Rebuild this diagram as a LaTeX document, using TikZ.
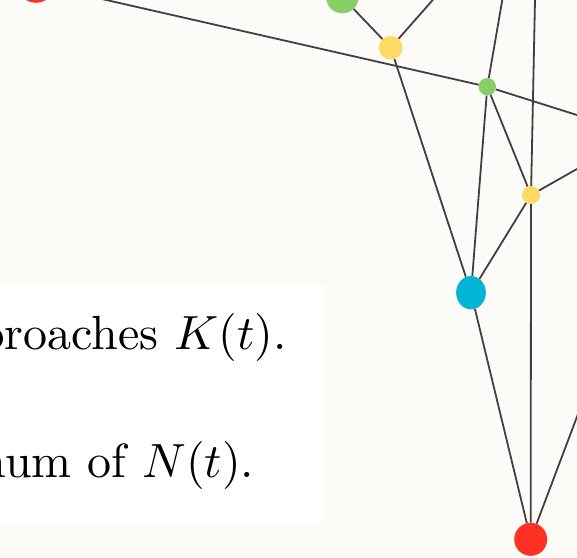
\documentclass[tikz,border=0pt]{standalone}
\usetikzlibrary{shapes.geometric}
\definecolor{bgc}{HTML}{FCFBF7}
\definecolor{edgec}{HTML}{404040}
\definecolor{nred}{HTML}{FF3024}
\definecolor{ngreen}{HTML}{87CF66}
\definecolor{nyellow}{HTML}{FFD966}
\definecolor{nblue}{HTML}{04B4D7}
\begin{document}
\begin{tikzpicture}[x=1pt,y=-1pt,
  dot/.style={circle,inner sep=0pt,draw=none,minimum size=#1},
  edge/.style={draw=edgec,line width=1.8pt},
  txt/.style={anchor=base east,inner sep=0pt}]
\useasboundingbox (0,0) rectangle (577,557);
\clip (0,0) rectangle (577,557);
\fill[bgc] (0,0) rectangle (577,557);
\fill[white] (-1,285) rectangle (323.5,523.3);
\node[txt] (t1) at (287,349) {\scalebox{4.8}{proaches $K(t)$.}};
\node[txt] (t2) at (254.5,477) {\scalebox{4.8}{num of $N(t)$.}};
% nodes
\node[dot=37.6pt,fill=nred] (r1) at (36,-16) {};
\node[dot=32.4pt,fill=ngreen] (gB) at (342.3,-2.9) {};
\node[dot=23.7pt,fill=nyellow] (y1) at (390.7,47.7) {};
\node[dot=17.4pt,fill=ngreen] (gS) at (487.3,86.7) {};
\node[dot=18pt,fill=nyellow] (y2) at (531,195) {};
\node[ellipse,inner sep=0pt,draw=none,minimum width=29.7pt,minimum height=33.3pt,fill=nblue] (bl) at (471,292.7) {};
\node[dot=33pt,fill=nred] (r2) at (530.7,539.3) {};
% free ends
\coordinate (e1) at (441.5,-10);
\coordinate (e2) at (504,-10);
\coordinate (e3) at (535.2,-10);
\coordinate (e4) at (600,122.3);
\coordinate (e5) at (600,156);
\coordinate (e6) at (600,355.8);
% edges
\draw[edge] (r1) -- (gS);
\draw[edge] (gS) -- (e4);
\draw[edge] (gB) -- (y1);
\draw[edge] (y1) -- (e1);
\draw[edge] (y1) -- (bl);
\draw[edge] (gS) -- (e2);
\draw[edge] (gS) -- (bl);
\draw[edge] (gS) -- (y2);
\draw[edge] (y2) -- (e3);
\draw[edge] (y2) -- (e5);
\draw[edge] (y2) -- (bl);
\draw[edge] (y2) -- (r2);
\draw[edge] (bl) -- (r2);
\draw[edge] (r2) -- (e6);
\end{tikzpicture}
\end{document}
